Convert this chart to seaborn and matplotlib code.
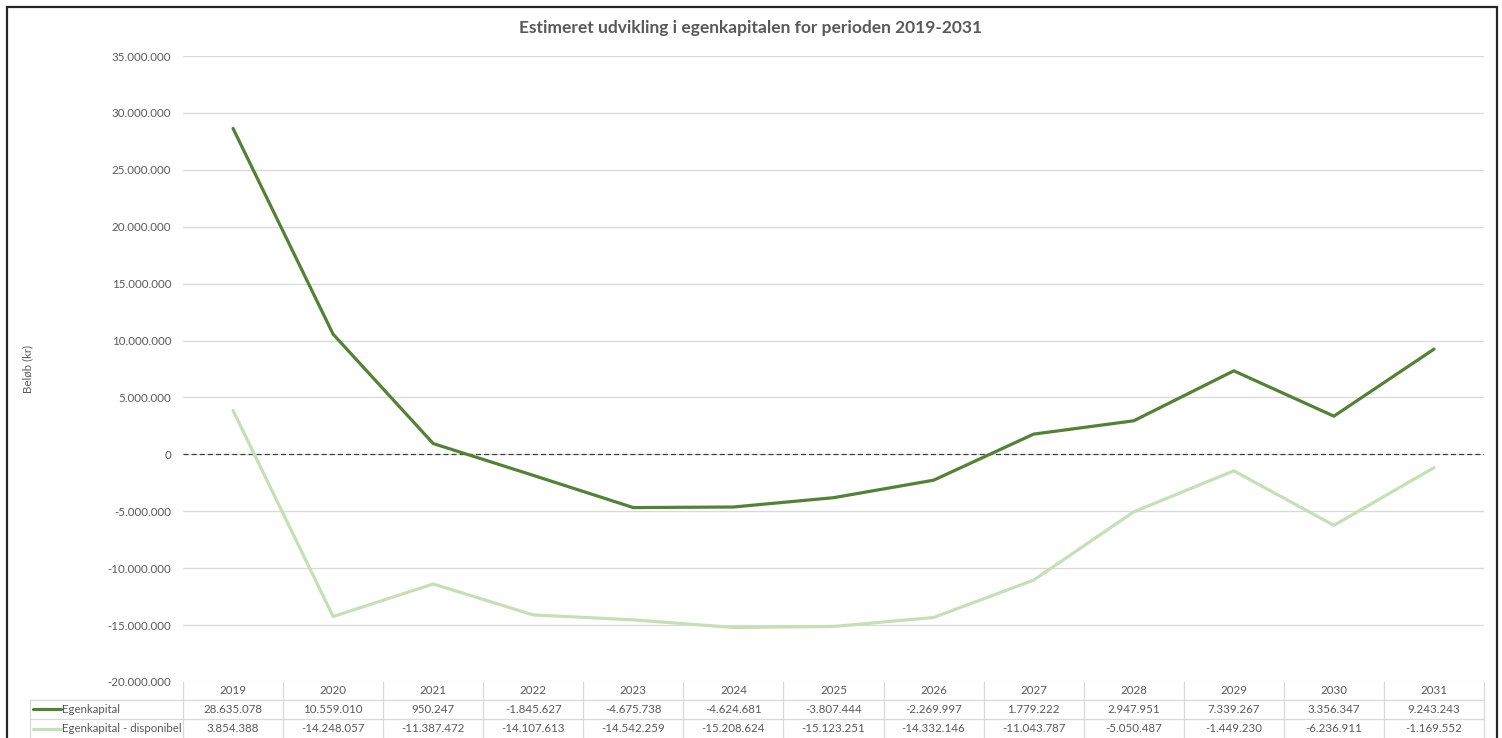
import numpy as np
import pandas as pd
import matplotlib.pyplot as plt
import seaborn as sns
from matplotlib.lines import Line2D
from matplotlib.patches import Rectangle

years = [2019, 2020, 2021, 2022, 2023, 2024, 2025, 2026, 2027, 2028, 2029, 2030, 2031]
egenkapital = [28635078, 10559010, 950247, -1845627, -4675738, -4624681, -3807444,
               -2269997, 1779222, 2947951, 7339267, 3356347, 9243243]
disponibel = [3854388, -14248057, -11387472, -14107613, -14542259, -15208624, -15123251,
              -14332146, -11043787, -5050487, -1449230, -6236911, -1169552]
series_names = ['Egenkapital', 'Egenkapital - disponibel']
colors = ['#548235', '#C5E0B4']
title = 'Estimeret udvikling i egenkapitalen for perioden 2019-2031'


def dk(v):
    # dansk tusindtalsseparator
    return f'{v:,.0f}'.replace(',', '.')


df = pd.DataFrame({
    'pos': list(range(len(years))) * 2,
    'value': egenkapital + disponibel,
    'serie': [series_names[0]] * len(years) + [series_names[1]] * len(years),
})

sns.set_style('white')
plt.rcParams['font.family'] = ['Lato', 'DejaVu Sans']
grey = '#595959'
grid = '#D9D9D9'
fs = 8.3

fig = plt.figure(figsize=(15.02, 7.38), dpi=100)
ax = fig.add_axes([183 / 1502, 1 - 682 / 738, 1301 / 1502, 626 / 738])

sns.lineplot(data=df, x='pos', y='value', hue='serie', palette=colors, hue_order=series_names,
             linewidth=2.3, ax=ax, legend=False)
# mørk linje øverst
for line, z in zip(ax.lines, [3, 2]):
    line.set_zorder(z)

ax.axhline(0, color='#404040', linestyle=(0, (4, 2.5)), linewidth=0.9, zorder=1)
ax.set_xlim(-0.5, len(years) - 0.5)
ax.set_ylim(-20000000, 35000000)
ax.set_yticks(np.arange(-20000000, 35000001, 5000000))
ax.set_yticklabels([dk(v) for v in ax.get_yticks()])
ax.yaxis.grid(True, color=grid, linewidth=0.9)
ax.set_axisbelow(True)
ax.tick_params(axis='y', length=0, pad=8.5, labelsize=fs, labelcolor=grey)
ax.set_xticks(range(len(years)))
ax.set_xticklabels([str(y) for y in years])
ax.tick_params(axis='x', length=0, pad=2.5, labelsize=fs, labelcolor=grey)
for s in ax.spines.values():
    s.set_visible(False)
ax.set_xlabel('')
ax.set_ylabel('Beløb (kr)', fontsize=fs, color=grey)
ax.yaxis.set_label_coords(-0.1153, 0.5)

fig.text(0.5, 1 - 28 / 738, title, ha='center', va='center', fontsize=12.5,
         fontweight='bold', color=grey)

# datatabel under grafen
trans = ax.get_xaxis_transform()
row_y = [-0.0439, -0.0743]
h_lines = [0, -0.02875, -0.0591]
tab_bottom = -0.095
left_col = (30 - 183) / 1301
for i in range(len(years) + 1):
    ax.add_line(Line2D([i - 0.5, i - 0.5], [0, tab_bottom], transform=trans,
                       color=grid, linewidth=0.9, clip_on=False))
ax.add_line(Line2D([left_col, left_col], [h_lines[1], tab_bottom], transform=ax.transAxes,
                   color=grid, linewidth=0.9, clip_on=False))
for yy in h_lines[1:]:
    ax.add_line(Line2D([left_col, 1], [yy, yy], transform=ax.transAxes,
                       color=grid, linewidth=0.9, clip_on=False))

for vals, name, col, yy in zip([egenkapital, disponibel], series_names, colors, row_y):
    for i, v in enumerate(vals):
        ax.text(i, yy, dk(v), transform=trans, ha='center', va='center',
                fontsize=fs, color=grey)
    ax.add_line(Line2D([(33 - 183) / 1301, (61 - 183) / 1301], [yy, yy], transform=ax.transAxes,
                       color=col, linewidth=2.3, clip_on=False))
    ax.text((62 - 183) / 1301, yy, name, transform=ax.transAxes, ha='left', va='center',
            fontsize=fs, color=grey)

# ramme om hele figuren
fig.patches.append(Rectangle((7 / 1502, -0.05), 1490 / 1502, 1.05 - 7 / 738,
                             transform=fig.transFigure, fill=False,
                             edgecolor='#262626', linewidth=1.6))

fig.savefig('out.png', dpi=100)
